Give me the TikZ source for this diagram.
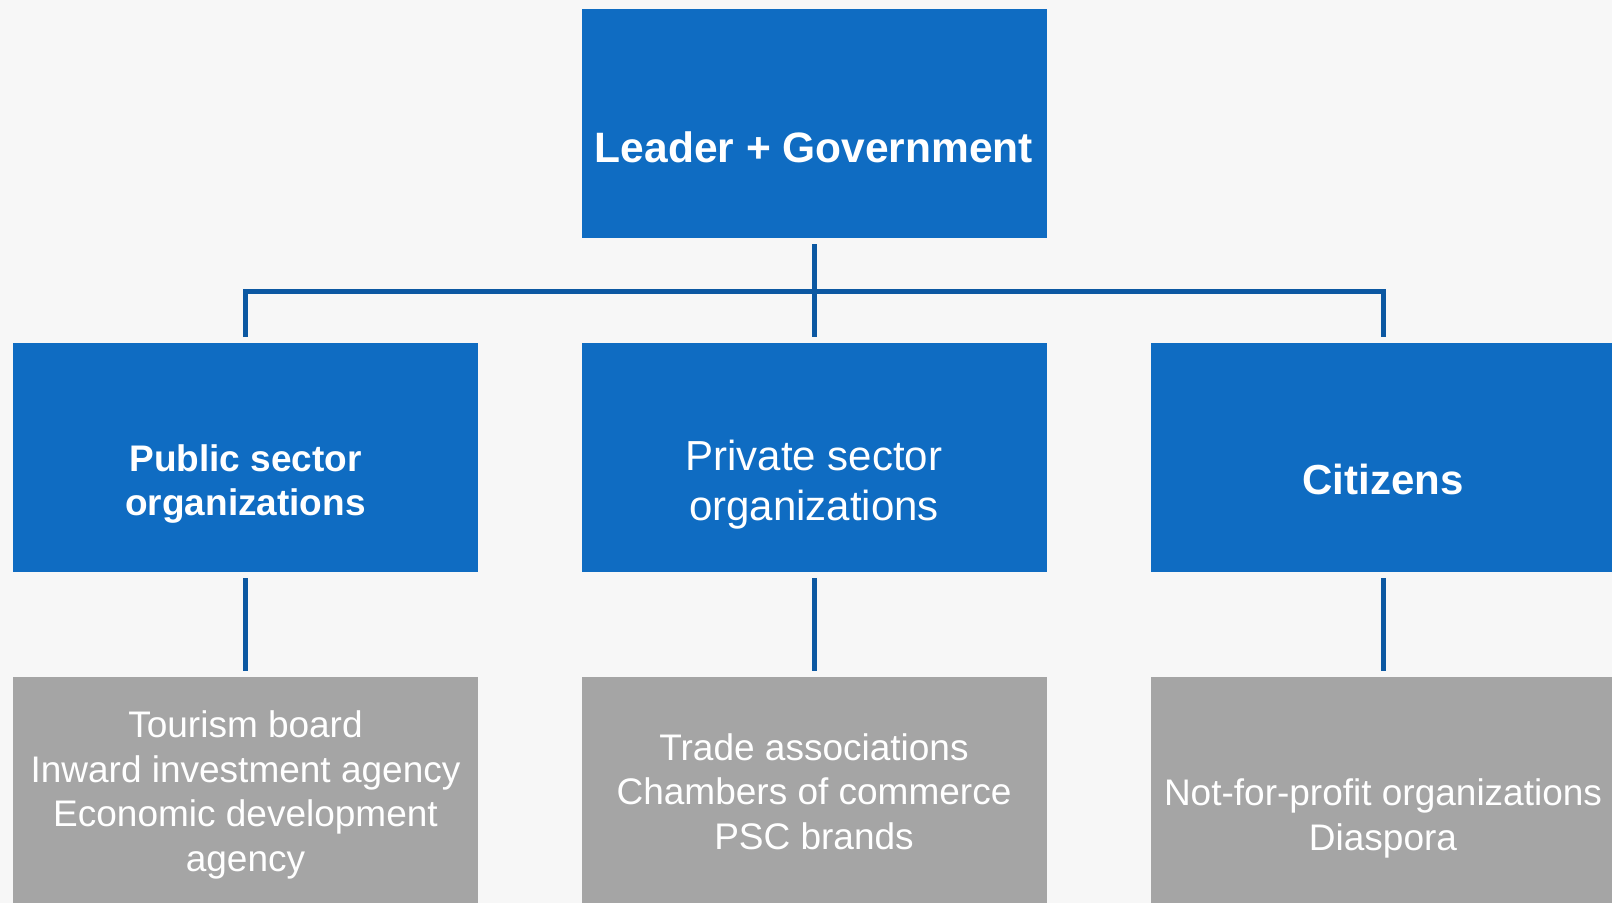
\documentclass[tikz,border=0pt]{standalone}
\usepackage{fontspec}
\setmainfont{Liberation Sans}
\definecolor{boxblue}{RGB}{15,108,194}
\definecolor{lineblue}{RGB}{12,88,162}
\definecolor{boxgray}{RGB}{165,165,165}
\definecolor{bgcol}{RGB}{247,247,247}
\begin{document}
\begin{tikzpicture}[x=1pt,y=-1pt,
  bluebox/.style={rectangle, fill=boxblue, draw=none, inner sep=0pt, minimum width=465pt, minimum height=229pt, anchor=north west},
  graybox/.style={rectangle, fill=boxgray, draw=none, inner sep=0pt, minimum width=465pt, minimum height=226pt, anchor=north west},
  wt/.style={text=white, align=center, inner sep=0pt, anchor=base},
  headbold/.style={wt, font=\bfseries\fontsize{42.5}{51}\selectfont},
  headsmall/.style={wt, font=\bfseries\fontsize{37}{44}\selectfont},
  headreg/.style={wt, font=\fontsize{42}{50}\selectfont},
  bodytext/.style={wt, font=\fontsize{37}{44.4}\selectfont},
  conn/.style={draw=lineblue, line width=5pt, line join=miter}]
\useasboundingbox (0,0) rectangle (1612,903);
\fill[bgcol] (0,0) rectangle (1612,903);
% boxes
\node[bluebox] (top) at (582,9) {};
\node[bluebox] (pub) at (13,343) {};
\node[bluebox] (priv) at (582,343) {};
\node[bluebox] (cit) at (1151,343) {};
\node[graybox] (pubd) at (13,677) {};
\node[graybox] (privd) at (582,677) {};
\node[graybox] (citd) at (1151,677) {};
% connectors
\coordinate (hbar) at (814,291);
\draw[conn] ([yshift=-6pt]top.south) -- ([yshift=6pt]priv.north);
\draw[conn] ([yshift=6pt]pub.north) |- (hbar) -| ([yshift=6pt]cit.north);
\draw[conn] ([yshift=-6pt]pub.south) -- ([yshift=6pt]pubd.north);
\draw[conn] ([yshift=-6pt]priv.south) -- ([yshift=6pt]privd.north);
\draw[conn] ([yshift=-6pt]cit.south) -- ([yshift=6pt]citd.north);
% texts (base anchor = baseline of last line)
\node[headbold] (toptext) at (814,162.7) {Leader + Government};
\node[headsmall] (pubtext) at (245.5,515.5) {Public sector\\organizations};
\node[headreg] (privtext) at (814,520) {Private sector\\organizations};
\node[wt, font=\bfseries\fontsize{42}{50}\selectfont] (cittext) at (1383,494.5) {Citizens};
\node[bodytext] (pubdtext) at (245.5,871) {Tourism board\\Inward investment agency\\Economic development\\agency};
\node[bodytext] (privdtext) at (814,849) {Trade associations\\Chambers of commerce\\PSC brands};
\node[bodytext] (citdtext) at (1383,850) {Not-for-profit organizations\\Diaspora};
\end{tikzpicture}
\end{document}
